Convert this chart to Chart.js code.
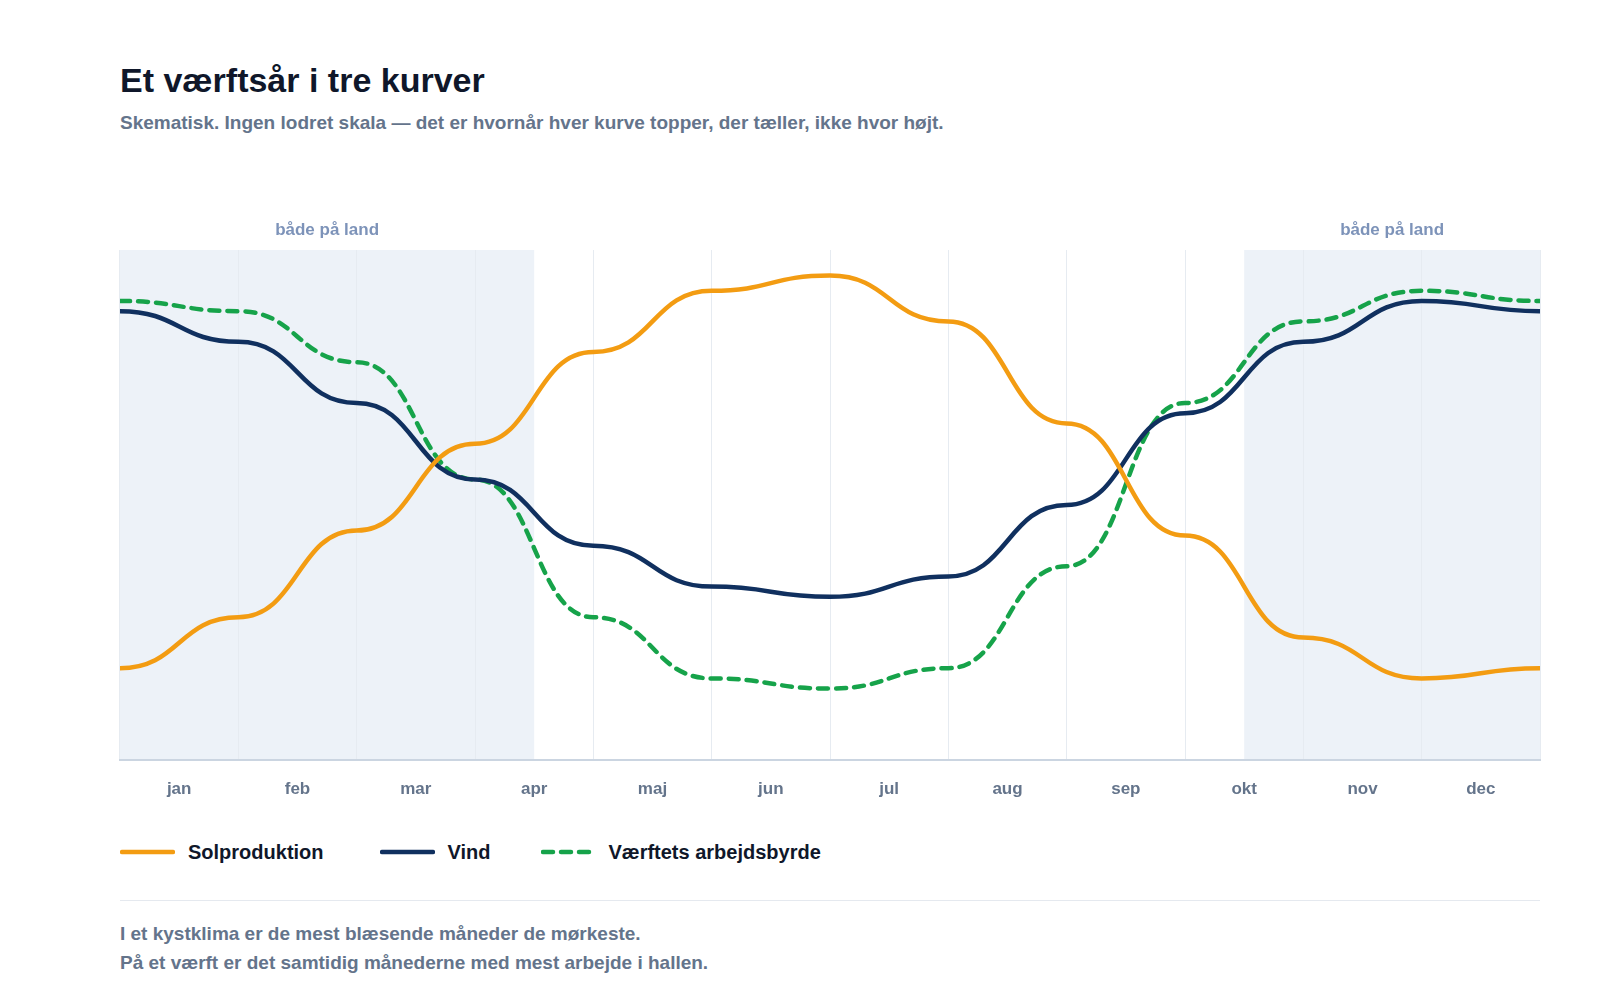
<!DOCTYPE html>
<html lang="da">
<head>
<meta charset="utf-8">
<title>Et værftsår i tre kurver</title>
<script src="https://cdn.jsdelivr.net/npm/chart.js@4.4.1/dist/chart.umd.min.js"></script>
<style>
  html, body { margin: 0; padding: 0; background: #fff; }
  body { width: 1600px; height: 1000px; position: relative; overflow: hidden;
         font-family: "Liberation Sans", Arial, sans-serif; font-weight: bold; }
  .abs { position: absolute; left: 120px; white-space: nowrap; }
  #title { top: 59px; font-size: 34px; line-height: 42px; color: #0f172a; }
  #subtitle { top: 111px; font-size: 19px; line-height: 24px; color: #64748b; }
  #chart-wrap { position: absolute; left: 0; top: 200px; width: 1600px; height: 620px; }
  #legend { top: 839px; display: flex; align-items: center; font-size: 20px; line-height: 26px; color: #0f172a; }
  .item { display: flex; align-items: center; }
  .item svg { margin-right: 13px; }
  #rule { position: absolute; left: 120px; top: 900px; width: 1420px; height: 1px; background: #e5e9ef; }
  #note { top: 919px; font-size: 19px; line-height: 29px; color: #64748b; }
</style>
</head>
<body>
<div id="title" class="abs">Et værftsår i tre kurver</div>
<div id="subtitle" class="abs">Skematisk. Ingen lodret skala — det er hvornår hver kurve topper, der tæller, ikke hvor højt.</div>

<div id="chart-wrap"><canvas id="chart"></canvas></div>

<div id="legend" class="abs"></div>
<div id="rule"></div>
<div id="note" class="abs">I et kystklima er de mest blæsende måneder de mørkeste.<br>På et værft er det samtidig månederne med mest arbejde i hallen.</div>

<script>
// Month labels and month boundaries (the curves are sampled at the boundaries)
const months = ['jan', 'feb', 'mar', 'apr', 'maj', 'jun', 'jul', 'aug', 'sep', 'okt', 'nov', 'dec'];
const edges = [0, 1, 2, 3, 4, 5, 6, 7, 8, 9, 10, 11, 12];

// Schematic values, 0-100
const solValues = [18, 28, 45, 62, 80, 92, 95, 86, 66, 44, 24, 16, 18];
const vindValues = [88, 82, 70, 55, 42, 34, 32, 36, 50, 68, 82, 90, 88];
const arbejdeValues = [90, 88, 78, 55, 28, 16, 14, 18, 38, 70, 86, 92, 90];

// Boat on land periods (in month units)
const landStart = [0, 9.5];
const landEnd = [3.5, 12];
const landLabel = 'både på land';

const series = [
    { label: 'Solproduktion', values: solValues, color: '#f39c12', dash: [], gap: 56 },
    { label: 'Vind', values: vindValues, color: '#10305f', dash: [], gap: 50 },
    { label: 'Værftets arbejdsbyrde', values: arbejdeValues, color: '#16a34a', dash: [10, 8], gap: 0 }
];

// Shaded periods + labels above the plot
const landPlugin = {
    id: 'land',
    beforeDraw(chart) {
        const { ctx, chartArea } = chart;
        const xs = chart.scales.xl;
        ctx.save();
        for (let i = 0; i < landStart.length; i++) {
            const x0 = xs.getPixelForValue(landStart[i]);
            const x1 = xs.getPixelForValue(landEnd[i]);
            ctx.fillStyle = '#edf2f8';
            ctx.fillRect(x0, chartArea.top, x1 - x0, chartArea.bottom - chartArea.top);
            ctx.fillStyle = '#7d93b9';
            ctx.font = 'bold 17px "Liberation Sans", Arial, sans-serif';
            ctx.textAlign = 'center';
            ctx.textBaseline = 'middle';
            ctx.fillText(landLabel, (x0 + x1) / 2, chartArea.top - 20);
        }
        ctx.restore();
    }
};

// Flat tangent at every sample: control points sit halfway, at the point's own height
const bumpPlugin = {
    id: 'bump',
    beforeDatasetsDraw(chart) {
        chart.data.datasets.forEach((ds, i) => {
            const meta = chart.getDatasetMeta(i);
            meta.dataset.updateControlPoints(chart.chartArea, 'x');
            const pts = meta.data;
            for (let j = 0; j < pts.length; j++) {
                const p = pts[j];
                const prev = pts[j - 1];
                const next = pts[j + 1];
                p.cp1x = prev ? (prev.x + p.x) / 2 : p.x;
                p.cp1y = p.y;
                p.cp2x = next ? (p.x + next.x) / 2 : p.x;
                p.cp2y = p.y;
            }
        });
    }
};

const ctx = document.getElementById('chart').getContext('2d');
const chart = new Chart(ctx, {
    type: 'line',
    data: {
        labels: months,
        datasets: series.map(s => ({
            label: s.label,
            data: s.values.map((v, i) => ({ x: edges[i], y: v })),
            xAxisID: 'xl',
            borderColor: s.color,
            borderWidth: 4.5,
            borderDash: s.dash,
            borderCapStyle: 'round',
            borderJoinStyle: 'round',
            pointRadius: 0,
            pointHoverRadius: 0,
            tension: 0.4,
            fill: false
        }))
    },
    options: {
        responsive: true,
        maintainAspectRatio: false,
        animation: false,
        events: [],
        layout: { padding: { left: 120, right: 60, top: 50, bottom: 0 } },
        plugins: {
            legend: { display: false },
            tooltip: { enabled: false }
        },
        scales: {
            x: {
                type: 'category',
                offset: true,
                grid: { offset: true, color: '#e6ebf1', lineWidth: 1, drawTicks: false },
                border: { display: true, color: '#cbd5e1', width: 2 },
                ticks: {
                    color: '#64748b',
                    padding: 19,
                    font: { family: '"Liberation Sans", Arial, sans-serif', size: 17, weight: 'bold' }
                },
                afterFit(scale) { scale.height = 60; }
            },
            xl: { type: 'linear', min: 0, max: 12, display: false },
            y: { min: 0, max: 100, display: false }
        }
    },
    plugins: [landPlugin, bumpPlugin]
});

// HTML legend
const legend = document.getElementById('legend');
series.forEach(s => {
    const item = document.createElement('div');
    item.className = 'item';
    item.style.marginRight = s.gap + 'px';
    const dash = s.dash.length ? ` stroke-dasharray="${s.dash.join(' ')}"` : '';
    item.innerHTML = `<svg width="55" height="8"><line x1="2" y1="4" x2="53" y2="4" stroke="${s.color}" stroke-width="4.5" stroke-linecap="round"${dash}/></svg><span>${s.label}</span>`;
    legend.appendChild(item);
});
</script>
</body>
</html>
